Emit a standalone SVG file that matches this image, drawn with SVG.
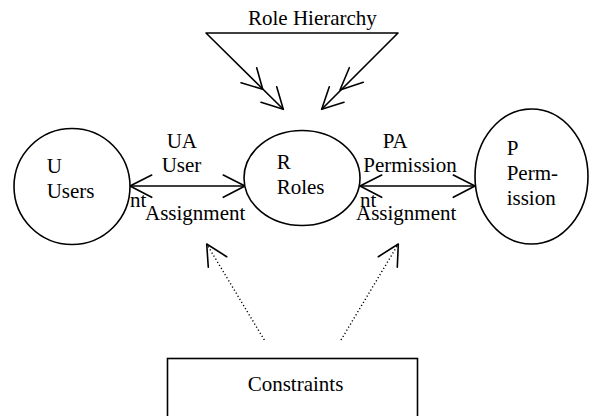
<svg xmlns="http://www.w3.org/2000/svg" width="589" height="416" viewBox="0 0 589 416">
<rect width="589" height="416" fill="#fff"/>
<g id="connectors" fill="none" stroke="#000" stroke-width="1.6" stroke-linecap="round" stroke-linejoin="round">
  <g id="role-hierarchy">
    <polyline points="283.3,109.3 206,33 398,33 321.7,109.3"/>
    <polyline points="256.7,67.7 262.7,89.3 241,82.7"/>
    <polyline points="276.7,86.7 283.3,109.3 261,102.3"/>
    <polyline points="349.3,67.7 340,90 363.3,82.3"/>
    <polyline points="329.3,86.7 321.7,109.3 344,102.3"/>
  </g>
  <g id="ua">
    <line x1="130" y1="186" x2="245" y2="186"/>
    <polyline points="151.7,175 130,186 151.7,197.3"/>
    <polyline points="223.3,175 245,186 223.3,197.3"/>
  </g>
  <g id="pa">
    <line x1="360" y1="186" x2="475" y2="186"/>
    <polyline points="381.7,175 360,186 381.7,197.3"/>
    <polyline points="453.3,175 475,186 453.3,197.3"/>
  </g>
  <g id="constraint-links">
    <line stroke-width="1.4" stroke-linecap="butt" stroke-dasharray="1.2 2.4" x1="264.3" y1="340" x2="206.7" y2="244"/>
    <polyline points="208.3,267.3 206.7,244 226.7,256.7"/>
    <line stroke-width="1.4" stroke-linecap="butt" stroke-dasharray="1.2 2.4" x1="341" y1="340" x2="398.3" y2="244"/>
    <polyline points="397.3,267.3 398.3,244 378.3,256.7"/>
  </g>
</g>
<g id="role-hierarchy-label"><text font-family="Liberation Serif" font-size="21" x="248" y="25">Role Hierarchy</text></g>
<g id="ua-label">
  <text font-family="Liberation Serif" font-size="21" x="166.7" y="148">UA</text>
  <text font-family="Liberation Serif" font-size="21" x="161.7" y="172">User</text>
  <text font-family="Liberation Serif" font-size="21" x="130" y="207">nt</text>
  <text font-family="Liberation Serif" font-size="21" x="145" y="220">Assignment</text>
</g>
<g id="pa-label">
  <text font-family="Liberation Serif" font-size="21" x="382.7" y="148">PA</text>
  <text font-family="Liberation Serif" font-size="21" x="363.3" y="172">Permission</text>
  <text font-family="Liberation Serif" font-size="21" x="360" y="207">nt</text>
  <text font-family="Liberation Serif" font-size="21" x="356" y="220">Assignment</text>
</g>
<g id="users">
  <circle fill="#fff" stroke="#000" stroke-width="1.6" cx="72" cy="186.5" r="58"/>
  <text font-family="Liberation Serif" font-size="21" x="46.7" y="173">U</text>
  <text font-family="Liberation Serif" font-size="21" x="46.7" y="198">Users</text>
</g>
<g id="roles">
  <ellipse fill="#fff" stroke="#000" stroke-width="1.6" cx="302" cy="178" rx="58" ry="47.5"/>
  <text font-family="Liberation Serif" font-size="21" x="276.7" y="169">R</text>
  <text font-family="Liberation Serif" font-size="21" x="276.7" y="194">Roles</text>
</g>
<g id="permission">
  <ellipse fill="#fff" stroke="#000" stroke-width="1.6" cx="531.5" cy="176.5" rx="56.5" ry="67.5"/>
  <text font-family="Liberation Serif" font-size="21" x="506.7" y="155">P</text>
  <text font-family="Liberation Serif" font-size="21" x="506.7" y="180">Perm-</text>
  <text font-family="Liberation Serif" font-size="21" x="506.7" y="205">ission</text>
</g>
<g id="constraints">
  <rect fill="#fff" stroke="#000" stroke-width="1.6" x="167.5" y="358.5" width="250" height="70"/>
  <text font-family="Liberation Serif" font-size="21" x="247.7" y="391">Constraints</text>
</g>
</svg>
